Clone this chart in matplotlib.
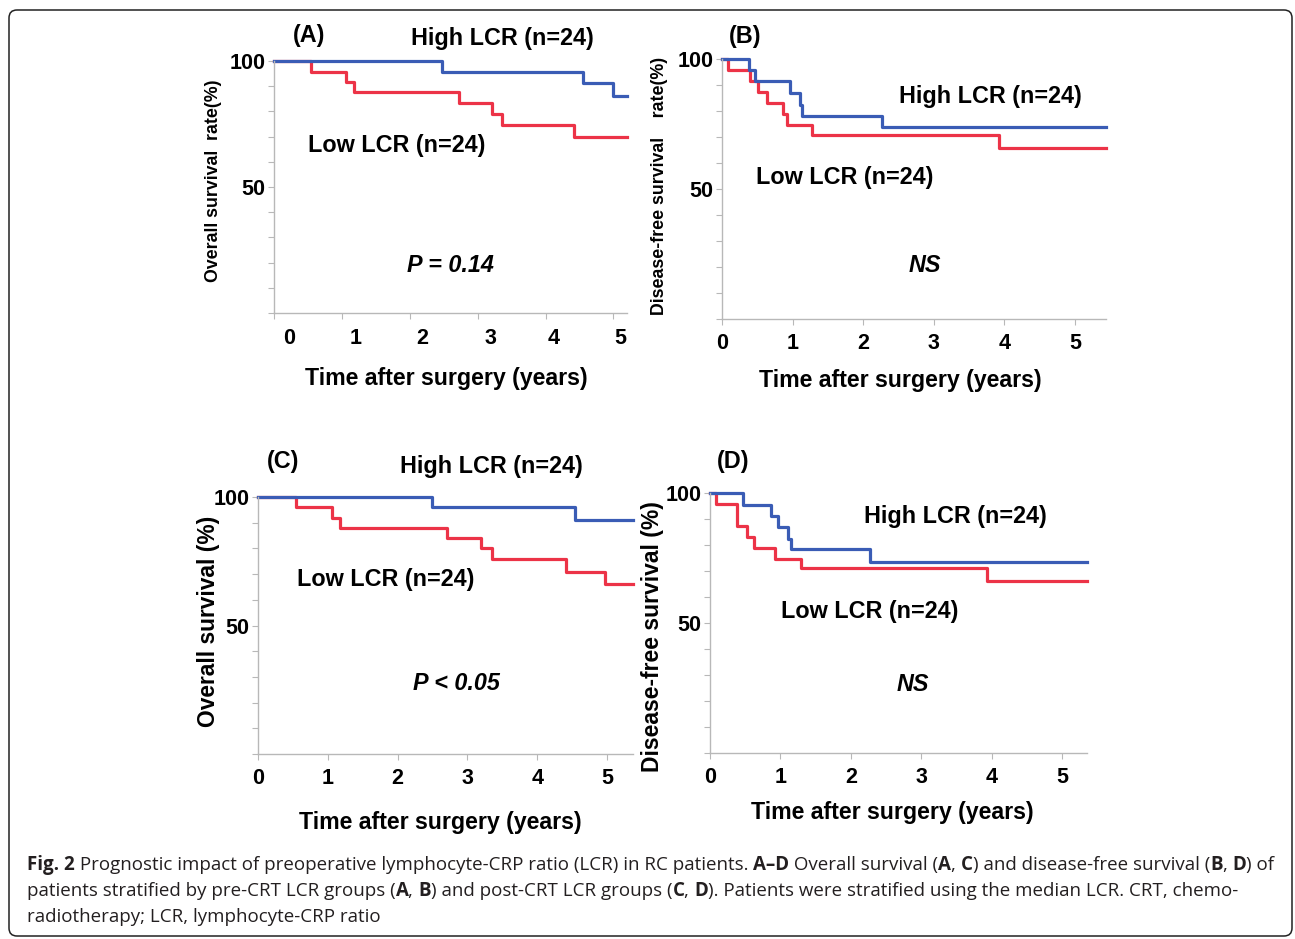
import matplotlib
matplotlib.use('Agg')
import matplotlib.pyplot as plt
from matplotlib.patches import FancyBboxPatch
from matplotlib.transforms import IdentityTransform

W, H = 1295, 939

# Curvas Kaplan-Meier (años, % supervivencia)
a_high_t = [0, 2.47, 4.55, 5.0, 5.2]
a_high_s = [100, 95.8, 91.2, 86.0, 86.0]
a_low_t = [0, 0.54, 1.06, 1.18, 2.73, 3.21, 3.36, 4.42, 5.2]
a_low_s = [100, 95.8, 91.7, 87.5, 83.2, 78.8, 74.6, 69.7, 69.7]

b_high_t = [0, 0.38, 0.47, 0.97, 1.10, 1.14, 2.27, 5.44]
b_high_s = [100, 95.8, 91.5, 87.0, 82.5, 78.2, 73.8, 73.8]
b_low_t = [0, 0.09, 0.39, 0.51, 0.64, 0.87, 0.92, 1.28, 3.93, 5.44]
b_low_s = [100, 95.8, 91.4, 87.4, 83.0, 78.7, 74.6, 70.6, 65.6, 65.6]

c_high_t = [0, 2.49, 4.54, 5.37]
c_high_s = [100, 96.0, 91.0, 91.0]
c_low_t = [0, 0.54, 1.06, 1.17, 2.70, 3.20, 3.35, 4.41, 4.97, 5.37]
c_low_s = [100, 96.2, 92.0, 88.0, 84.0, 80.0, 75.8, 71.0, 66.2, 66.2]

d_high_t = [0, 0.47, 0.87, 0.96, 1.10, 1.15, 2.27, 5.35]
d_high_s = [100, 95.5, 91.1, 87.0, 82.5, 78.3, 73.5, 73.5]
d_low_t = [0, 0.09, 0.38, 0.52, 0.62, 0.92, 1.29, 3.93, 5.35]
d_low_s = [100, 95.9, 87.3, 82.9, 79.0, 74.8, 71.0, 66.0, 66.0]

x_ticks = [0, 1, 2, 3, 4, 5]
x_ticklabels = ['0', '1', '2', '3', '4', '5']
a_xlabel_pos = [0.22, 1.20, 2.19, 3.19, 4.12, 5.10]  # en (A) los números están corridos
y_ticks = [0, 10, 20, 30, 40, 50, 60, 70, 80, 90, 100]
y_ticklabels = ['', '', '', '', '', '50', '', '', '', '', '100']

high_label = 'High LCR (n=24)'
low_label = 'Low LCR (n=24)'
x_title = 'Time after surgery (years)'

BLUE = '#3a5cb5'
RED = '#ec3347'
AXC = '#b8b8b8'
TXT = '#000000'

plt.rcParams['font.family'] = ['Liberation Sans', 'DejaVu Sans']

fig = plt.figure(figsize=(W / 100, H / 100), dpi=100)


def fx(x):
    return x / W


def fy(y):
    return 1 - y / H


def panel(box, xmax, high, low, letter, pos, ptext, xlab_pos=None):
    l, t, r, b = box
    ax = fig.add_axes([fx(l), fy(b), (r - l) / W, (b - t) / H])
    ax.step(low[0], low[1], where='post', color=RED, lw=2.3, clip_on=False)
    ax.step(high[0], high[1], where='post', color=BLUE, lw=2.3, clip_on=False)
    ax.set_xlim(0, xmax)
    ax.set_ylim(0, 100)
    for s in ['top', 'right']:
        ax.spines[s].set_visible(False)
    for s in ['left', 'bottom']:
        ax.spines[s].set_color(AXC)
        ax.spines[s].set_linewidth(1)
    ax.set_yticks(y_ticks)
    ax.set_yticklabels(y_ticklabels, fontsize=15.5, fontweight='bold', color=TXT)
    ax.tick_params(axis='y', length=4.3, width=0.8, color=AXC, pad=2)
    if xlab_pos is None:
        ax.set_xticks(x_ticks)
        ax.set_xticklabels(x_ticklabels, fontsize=15.5, fontweight='bold', color=TXT)
        ax.tick_params(axis='x', length=4.3, width=0.8, color=AXC, pad=5.5)
    else:
        ax.set_xticks(x_ticks)
        ax.set_xticklabels([''] * len(x_ticks))
        ax.set_xticks(xlab_pos, minor=True)
        ax.set_xticklabels(x_ticklabels, minor=True, fontsize=15.5,
                           fontweight='bold', color=TXT)
        ax.tick_params(axis='x', which='major', length=4.3, width=0.8, color=AXC)
        ax.tick_params(axis='x', which='minor', length=0, pad=10.5)
    kw = dict(ha='center', va='center', fontsize=16.8, fontweight='bold', color=TXT,
              clip_on=False)
    ax.text(pos[0][0], pos[0][1], letter, **kw)
    ax.text(pos[1][0], pos[1][1], high_label, **kw)
    ax.text(pos[2][0], pos[2][1], low_label, **kw)
    ax.text(pos[3][0], pos[3][1], ptext, style='italic', **kw)
    return ax


panel((274, 61, 627, 313), 5.2, (a_high_t, a_high_s), (a_low_t, a_low_s), '(A)',
      [(0.52, 110.3), (3.36, 109.1), (1.81, 66.3), (2.60, 18.7)], 'P = 0.14',
      xlab_pos=a_xlabel_pos)
panel((722, 59, 1106, 319), 5.44, (b_high_t, b_high_s), (b_low_t, b_low_s), '(B)',
      [(0.33, 108.5), (3.80, 85.4), (1.74, 54.6), (2.88, 20.4)], 'NS')
panel((258, 497, 633, 754), 5.37, (c_high_t, c_high_s), (c_low_t, c_low_s), '(C)',
      [(0.36, 113.8), (3.34, 111.9), (1.83, 67.8), (2.84, 27.3)], 'P < 0.05')
panel((710, 493, 1087, 753), 5.35, (d_high_t, d_high_s), (d_low_t, d_low_s), '(D)',
      [(0.33, 112.3), (3.48, 90.8), (2.27, 54.6), (2.88, 26.5)], 'NS')

# títulos de ejes
ylab = dict(rotation=90, ha='center', va='center', fontweight='bold', color=TXT)
fig.text(fx(214), fy(181), 'Overall survival  rate(%)', fontsize=12.8, **ylab)
fig.text(fx(660), fy(186), 'Disease-free survival    rate(%)', fontsize=12.8, **ylab)
fig.text(fx(209), fy(621), 'Overall survival (%)', fontsize=16.4, **ylab)
fig.text(fx(653), fy(637), 'Disease-free survival (%)', fontsize=16.5, **ylab)

xlab = dict(ha='center', va='center', fontsize=16.7, fontweight='bold', color=TXT)
fig.text(fx(446), fy(378), x_title, **xlab)
fig.text(fx(900), fy(381), x_title, **xlab)
fig.text(fx(440), fy(822), x_title, **xlab)
fig.text(fx(892), fy(813), x_title, **xlab)

# recuadro redondeado
box = FancyBboxPatch((9, H - 936), 1283, 926, boxstyle='round,pad=0,rounding_size=8',
                     transform=IdentityTransform(), fill=False, edgecolor='#222222',
                     lw=1.1)
fig.patches.append(box)

# epígrafe con partes en negrita
line1 = [('Fig. 2', True),
         (' Prognostic impact of preoperative lymphocyte-CRP ratio (LCR) in RC patients. ', False),
         ('A–D', True), (' Overall survival (', False), ('A', True), (', ', False),
         ('C', True), (') and disease-free survival (', False), ('B', True), (', ', False),
         ('D', True), (') of', False)]
line2 = [('patients stratified by pre-CRT LCR groups (', False), ('A', True), (', ', False),
         ('B', True), (') and post-CRT LCR groups (', False), ('C', True), (', ', False),
         ('D', True), ('). Patients were stratified using the median LCR. CRT, chemo-', False)]
line3 = [('radiotherapy; LCR, lymphocyte-CRP ratio', False)]

renderer = fig.canvas.get_renderer()
CAP_FONT = ['Open Sans', 'DejaVu Sans']


def seg_width(s, bold, size):
    w = []
    for txt in ['|' + s + '|', '||']:
        t = fig.text(0, 0, txt, fontsize=size, family=CAP_FONT,
                     fontweight='bold' if bold else 'normal')
        w.append(t.get_window_extent(renderer).width)
        t.remove()
    return w[0] - w[1]


base = 12
w1 = sum(seg_width(s, b, base) for s, b in line1)
cap_size = base * 1241 / w1


def caption_line(y, segs):
    x = 27
    for s, bold in segs:
        fig.text(fx(x), fy(y), s, fontsize=cap_size, family=CAP_FONT,
                 fontweight='bold' if bold else 'normal', color='#231f20',
                 ha='left', va='baseline')
        x += seg_width(s, bold, cap_size)


caption_line(870, line1)
caption_line(896, line2)
caption_line(922.5, line3)

fig.savefig('out.png', dpi=100)
